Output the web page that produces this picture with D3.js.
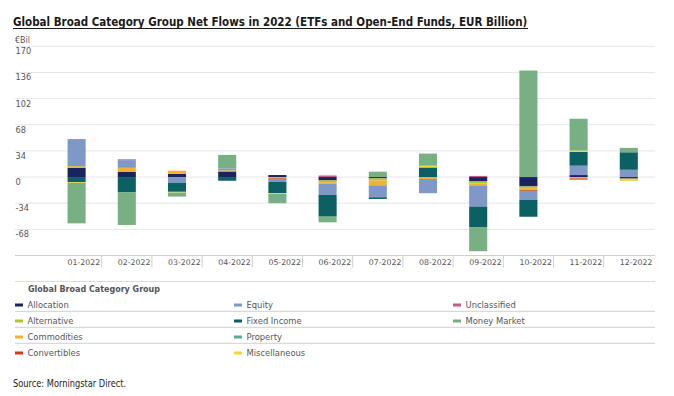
<!DOCTYPE html>
<html>
<head>
<meta charset="utf-8">
<script src="https://cdn.jsdelivr.net/npm/d3@7/dist/d3.min.js"></script>
<style>
  body { margin: 0; background: #fff; }
  svg { display: block; }
</style>
</head>
<body>
<div id="chart"></div>
<script>
// months on the x axis
const months = ["01-2022", "02-2022", "03-2022", "04-2022", "05-2022", "06-2022",
                "07-2022", "08-2022", "09-2022", "10-2022", "11-2022", "12-2022"];

// net flows per category group, EUR billion
const allocation   = [12.2, 7, 4.3, 7.3, 2.6, -4.4, -1.7, 0, -5.7, -12.2, 2.6, -2];
const alternative  = [0, 0, 0, 0, 0, -2.2, -2.6, 0, -2.6, -2.2, 0, 0];
const commodities  = [2, 5, 4, 1.5, -1.7, -2.2, -6.5, -2.5, -2.6, -2.6, -1.8, -1.5];
const convertibles = [0, 0, 0, 0, -1.7, 0, 0, 0, 0, -1, -1.5, 0];
const equity       = [34, 10, -7.4, 2.5, -3, -14.4, -15.5, -18.5, -27.5, -11.8, 12.2, 9.5];
const fixedIncome  = [-6.5, -20, -11.8, -4.8, -14.4, -28.3, -2.2, 12.5, -26.6, -21.8, 17.9, 22.7];
const misc         = [-1, 0, -1, 0, -1, 0, 0, 2.2, 0, 0, 1.7, -1.5];
const moneyMarket  = [-52.7, -42.3, -5.2, 17.5, -12.2, -7.4, 7, 15.8, -31.4, 138.5, 41.4, 5.7];
const property     = [0, 0, 0, 0, 0, 0, 0, 0, 0, 0, 0, 0];
const unclassified = [1, 1, 0, 0, 0, 2, 0, 0, 1.5, 0, 0, 0];

const yTicks = [-68, -34, 0, 34, 68, 102, 136, 170];

// stacking order (alphabetical, as the chart stacks them)
const keys = ["Allocation", "Alternative", "Commodities", "Convertibles", "Equity",
              "Fixed Income", "Miscellaneous", "Money Market", "Property", "Unclassified"];
const series = [allocation, alternative, commodities, convertibles, equity,
                fixedIncome, misc, moneyMarket, property, unclassified];
const colors = ["#18235f", "#b2c43a", "#f1b137", "#d2381f", "#7f98c8",
                "#0c5f62", "#eed73a", "#78b084", "#5fa98e", "#c05c86"];

// legend laid out in rows of three, like the original
const legendRows = [
  ["Allocation", "Equity", "Unclassified"],
  ["Alternative", "Fixed Income", "Money Market"],
  ["Commodities", "Property"],
  ["Convertibles", "Miscellaneous"]
];

const WIDTH = 674, HEIGHT = 396;
const PLOT = {left: 15, right: 655, top: 46.3, bottom: 255.5, bandLeft: 51.5, bandRight: 653.9};

const svg = d3.select("#chart").append("svg")
  .attr("width", WIDTH)
  .attr("height", HEIGHT);

const color = d3.scaleOrdinal().domain(keys).range(colors);

const x = d3.scaleBand()
  .domain(months)
  .range([PLOT.bandLeft, PLOT.bandRight])
  .paddingInner(0.64)
  .paddingOuter(0.32);

const y = d3.scaleLinear()
  .domain([-102, 170])
  .range([PLOT.bottom, PLOT.top]);

// fit a text to a target width by adjusting its font size
function fitText(sel, size, width) {
  sel.style("font-size", size + "px");
  const len = sel.node().getComputedTextLength();
  sel.style("font-size", (size * width / len) + "px");
}

// title (condensed face, stretched a little in height like the original)
const title = svg.append("text")
  .attr("transform", "translate(13,26) scale(1,1.12)")
  .style("font-family", "'Liberation Sans Narrow', 'DejaVu Sans Condensed', sans-serif")
  .style("font-weight", "bold")
  .style("fill", "#1a1a1a")
  .text("Global Broad Category Group Net Flows in 2022 (ETFs and Open-End Funds, EUR Billion)");
fitText(title, 15, 514);

svg.append("line")
  .attr("x1", 13).attr("x2", 528)
  .attr("y1", 28.5).attr("y2", 28.5)
  .style("stroke", "#1a1a1a")
  .style("stroke-width", 1.2);

// unit label
svg.append("text")
  .attr("x", 15)
  .attr("y", 43)
  .style("font-family", "'DejaVu Sans', sans-serif")
  .style("font-size", "8px")
  .style("fill", "#555")
  .text("€Bil");

// gridlines + y labels
svg.selectAll(".grid")
  .data(yTicks)
  .enter()
  .append("line")
    .attr("class", "grid")
    .attr("x1", PLOT.left).attr("x2", PLOT.right)
    .attr("y1", d => y(d)).attr("y2", d => y(d))
    .style("stroke", "#e6e6e6")
    .style("stroke-width", 1);

svg.selectAll(".ylabel")
  .data(yTicks)
  .enter()
  .append("text")
    .attr("class", "ylabel")
    .attr("x", 15.5)
    .attr("y", d => y(d) + 8)
    .style("font-family", "'DejaVu Sans', sans-serif")
    .style("font-size", "8.2px")
    .style("fill", "#555")
    .text(d => d);

// bottom axis line
svg.append("line")
  .attr("x1", PLOT.left).attr("x2", PLOT.right)
  .attr("y1", y(-102)).attr("y2", y(-102))
  .style("stroke", "#cfcfcf");

// stacked bars
const rows = months.map((m, i) => {
  const row = {month: m};
  keys.forEach((k, j) => { row[k] = series[j][i]; });
  return row;
});

const stacked = d3.stack()
  .keys(keys)
  .offset(d3.stackOffsetDiverging)(rows);

svg.append("g")
  .selectAll("g")
  .data(stacked)
  .enter()
  .append("g")
    .style("fill", d => color(d.key))
  .selectAll("rect")
  .data(d => d)
  .enter()
  .append("rect")
    .attr("x", d => x(d.data.month))
    .attr("width", x.bandwidth())
    .attr("y", d => y(Math.max(d[0], d[1])))
    .attr("height", d => Math.abs(y(d[0]) - y(d[1])));

// category separators and month labels
const step = x.step();
svg.selectAll(".xtick")
  .data(months.slice(1))
  .enter()
  .append("line")
    .attr("class", "xtick")
    .attr("x1", d => x(d) - step * 0.32)
    .attr("x2", d => x(d) - step * 0.32)
    .attr("y1", y(-102))
    .attr("y2", y(-102) + 12)
    .style("stroke", "#cfcfcf");

svg.selectAll(".xlabel")
  .data(months)
  .enter()
  .append("text")
    .attr("class", "xlabel")
    .attr("x", d => x(d) + x.bandwidth() + step * 0.32 - 1.5)
    .attr("y", 265)
    .attr("text-anchor", "end")
    .style("font-family", "'DejaVu Sans', sans-serif")
    .style("font-size", "7.8px")
    .style("fill", "#555")
    .text(d => d);

// legend
svg.append("line")
  .attr("x1", 15).attr("x2", 655)
  .attr("y1", 281.5).attr("y2", 281.5)
  .style("stroke", "#dcdcdc");

svg.append("text")
  .attr("x", 28)
  .attr("y", 292)
  .style("font-family", "'DejaVu Sans', sans-serif")
  .style("font-weight", "bold")
  .style("font-size", "8px")
  .style("fill", "#555")
  .text("Global Broad Category Group");

const colX = [15, 234, 453];
const rowY = [305, 321, 337, 353];

svg.selectAll(".legsep")
  .data(rowY.slice(0, 3))
  .enter()
  .append("line")
    .attr("class", "legsep")
    .attr("x1", 15).attr("x2", 655)
    .attr("y1", d => d + 6.3).attr("y2", d => d + 6.3)
    .style("stroke", "#d0d0d0");

const legendItems = [];
legendRows.forEach((r, ri) => r.forEach((k, ci) => legendItems.push({key: k, row: ri, col: ci})));

const leg = svg.selectAll(".legitem")
  .data(legendItems)
  .enter()
  .append("g")
    .attr("class", "legitem")
    .attr("transform", d => "translate(" + colX[d.col] + "," + rowY[d.row] + ")");

leg.append("rect")
  .attr("x", 0).attr("y", -1.5)
  .attr("width", 8).attr("height", 3)
  .style("fill", d => color(d.key));

leg.append("text")
  .attr("x", 12.5)
  .attr("y", 3)
  .style("font-family", "'DejaVu Sans', sans-serif")
  .style("font-size", "8.4px")
  .style("fill", "#555")
  .text(d => d.key);

// source
const source = svg.append("text")
  .attr("transform", "translate(13,387) scale(1,1.12)")
  .style("font-family", "'Liberation Sans Narrow', 'DejaVu Sans Condensed', sans-serif")
  .style("fill", "#222")
  .text("Source: Morningstar Direct.");
fitText(source, 11, 113);
</script>
</body>
</html>
